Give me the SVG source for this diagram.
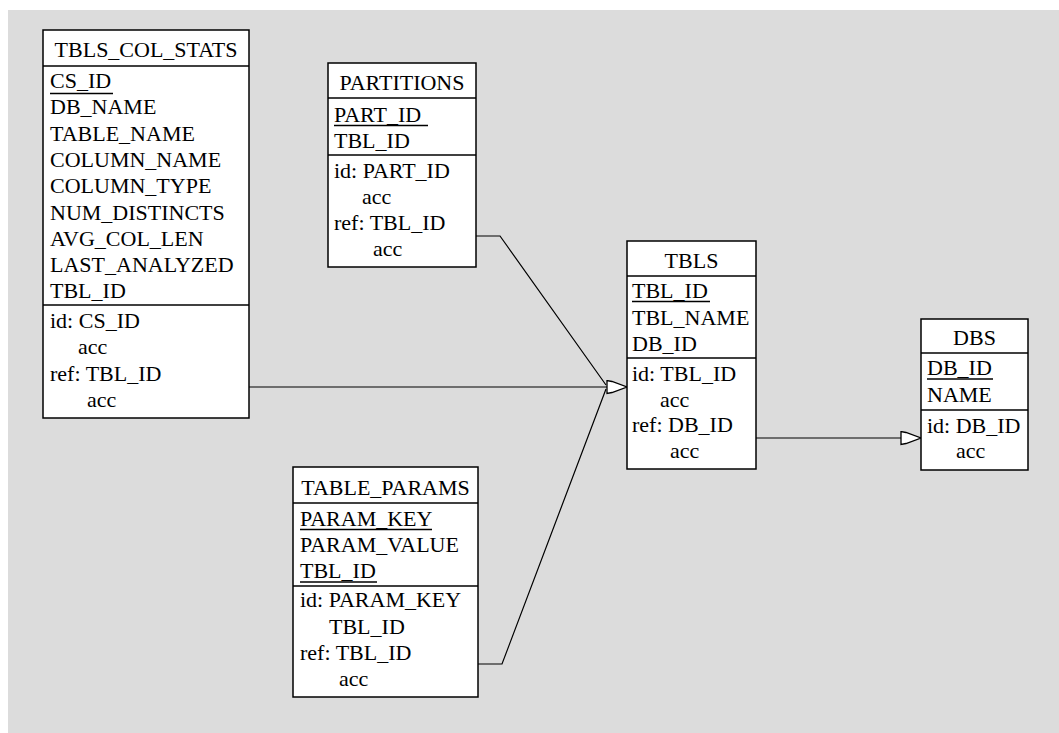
<svg xmlns="http://www.w3.org/2000/svg" width="1059" height="733" viewBox="0 0 1059 733">
<defs>
<style>
.box{fill:#fff;stroke:#000;stroke-width:1.5}
.sep{stroke:#000;stroke-width:1.5}
.ul{stroke:#000;stroke-width:1.5}
.t{font-family:'Liberation Serif','DejaVu Serif',serif;font-size:22px;fill:#000}
.hd{text-anchor:middle}
.con{fill:none;stroke:#000;stroke-width:1.2}
</style>
<marker id="arr" markerUnits="userSpaceOnUse" viewBox="-1 -1 23 15" markerWidth="23" markerHeight="15" refX="20" refY="6.5" orient="auto">
<path d="M0,0 L5,1 L20,6.5 L5,12 L0,13 Z" fill="#fff" stroke="#000" stroke-width="1.3"/>
</marker>
</defs>
<rect x="0" y="0" width="1059" height="733" fill="#fff"/>
<rect x="8" y="10" width="1051" height="723" fill="#dcdcdc"/>

<g id="connectors">
<path class="con" d="M476,236 L500,236 L606,385"/>
<path class="con" d="M478,664 L502,664 L606,389"/>
<path class="con" d="M249,387 L627,387" marker-end="url(#arr)"/>
<path class="con" d="M756,438 L921,438" marker-end="url(#arr)"/>
</g>

<g id="TBLS_COL_STATS" class="t" font-family="Liberation Serif, serif">
<rect class="box" x="43" y="30" width="206" height="388"/>
<line class="sep" x1="43" y1="66" x2="249" y2="66"/>
<line class="sep" x1="43" y1="305" x2="249" y2="305"/>
<text class="hd" x="146" y="57">TBLS_COL_STATS</text>
<text x="50" y="88">CS_ID</text>
<line class="ul" x1="50" y1="93.5" x2="113" y2="93.5"/>
<text x="50" y="114.3">DB_NAME</text>
<text x="50" y="140.6">TABLE_NAME</text>
<text x="50" y="166.9">COLUMN_NAME</text>
<text x="50" y="193.2">COLUMN_TYPE</text>
<text x="50" y="219.5">NUM_DISTINCTS</text>
<text x="50" y="245.8">AVG_COL_LEN</text>
<text x="50" y="272.1">LAST_ANALYZED</text>
<text x="50" y="298.4">TBL_ID</text>
<text x="50" y="328">id: CS_ID</text>
<text x="78" y="354.3">acc</text>
<text x="50" y="380.6">ref: TBL_ID</text>
<text x="87" y="406.9">acc</text>
</g>

<g id="PARTITIONS" class="t">
<rect class="box" x="328" y="63" width="148" height="204"/>
<line class="sep" x1="328" y1="98" x2="476" y2="98"/>
<line class="sep" x1="328" y1="155" x2="476" y2="155"/>
<text class="hd" x="402" y="90">PARTITIONS</text>
<text x="334" y="122">PART_ID</text>
<line class="ul" x1="334" y1="125.5" x2="428" y2="125.5"/>
<text x="334" y="148">TBL_ID</text>
<text x="334" y="178">id: PART_ID</text>
<text x="362" y="204">acc</text>
<text x="334" y="230">ref: TBL_ID</text>
<text x="373" y="256">acc</text>
</g>

<g id="TABLE_PARAMS" class="t">
<rect class="box" x="293" y="467" width="185" height="230"/>
<line class="sep" x1="293" y1="503" x2="478" y2="503"/>
<line class="sep" x1="293" y1="586" x2="478" y2="586"/>
<text class="hd" x="385.5" y="495">TABLE_PARAMS</text>
<text x="300" y="526">PARAM_KEY</text>
<line class="ul" x1="300" y1="529.5" x2="432" y2="529.5"/>
<text x="300" y="552">PARAM_VALUE</text>
<text x="300" y="578">TBL_ID</text>
<line class="ul" x1="300" y1="582" x2="377" y2="582"/>
<text x="300" y="607">id: PARAM_KEY</text>
<text x="329" y="634">TBL_ID</text>
<text x="300" y="660">ref: TBL_ID</text>
<text x="339" y="686">acc</text>
</g>

<g id="TBLS" class="t">
<rect class="box" x="627" y="241" width="129" height="228"/>
<line class="sep" x1="627" y1="276" x2="756" y2="276"/>
<line class="sep" x1="627" y1="358" x2="756" y2="358"/>
<text class="hd" x="691.5" y="268">TBLS</text>
<text x="632" y="298">TBL_ID</text>
<line class="ul" x1="632" y1="301.5" x2="710" y2="301.5"/>
<text x="632" y="325">TBL_NAME</text>
<text x="632" y="351">DB_ID</text>
<text x="632" y="381">id: TBL_ID</text>
<text x="660" y="407">acc</text>
<text x="632" y="432">ref: DB_ID</text>
<text x="670" y="458">acc</text>
</g>

<g id="DBS" class="t">
<rect class="box" x="921" y="319" width="107" height="151"/>
<line class="sep" x1="921" y1="353" x2="1028" y2="353"/>
<line class="sep" x1="921" y1="410" x2="1028" y2="410"/>
<text class="hd" x="974.5" y="345">DBS</text>
<text x="927" y="375">DB_ID</text>
<line class="ul" x1="927" y1="379" x2="993" y2="379"/>
<text x="927" y="402">NAME</text>
<text x="927" y="433">id: DB_ID</text>
<text x="956" y="458">acc</text>
</g>
</svg>
